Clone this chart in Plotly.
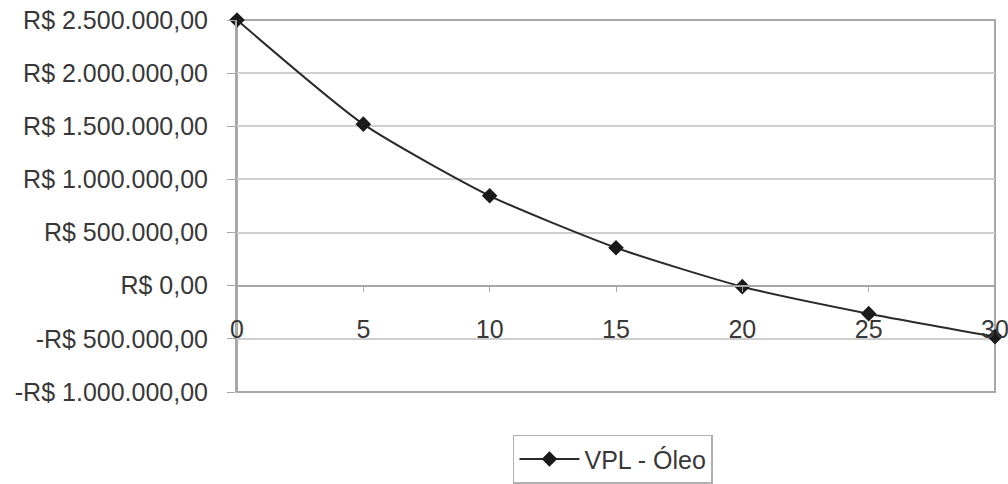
import plotly.graph_objects as go

anos = [0, 5, 10, 15, 20, 25, 30]
vpl_oleo = [2500000, 1520000, 846000, 357000, -9000, -263000, -479000]
y_ticks = [-1000000, -500000, 0, 500000, 1000000, 1500000, 2000000, 2500000]
y_labels = ["-R$ 1.000.000,00", "-R$ 500.000,00", "R$ 0,00", "R$ 500.000,00",
            "R$ 1.000.000,00", "R$ 1.500.000,00", "R$ 2.000.000,00", "R$ 2.500.000,00"]
x_ticks = [0, 5, 10, 15, 20, 25, 30]

FONT = "Liberation Sans, Arial, sans-serif"
GRID = "#cfcfcf"
AXIS = "#a8a8a8"

fig = go.Figure()
fig.add_trace(go.Scatter(
    x=anos, y=vpl_oleo, name="VPL - Óleo", mode="lines+markers",
    line=dict(color="#2a2a2a", width=2, shape="spline", smoothing=0.6),
    marker=dict(symbol="diamond", size=12, color="#1a1a1a"),
    cliponaxis=False,
))

fig.update_layout(
    width=1008, height=484,
    margin=dict(l=237, r=13, t=20, b=92, autoexpand=False),
    paper_bgcolor="white", plot_bgcolor="white",
    font=dict(family=FONT, size=25, color="#383838"),
    showlegend=True,
    legend=dict(
        orientation="h", x=0.496, xanchor="center", y=-0.115, yanchor="top",
        bordercolor="#b0b0b0", borderwidth=1.5, bgcolor="white",
        itemwidth=60,
        font=dict(family=FONT, size=25, color="#383838"),
    ),
    xaxis=dict(
        range=[0, 30], tickvals=x_ticks, ticktext=[str(v) for v in x_ticks],
        anchor="free", position=2 / 7, showgrid=False, zeroline=False,
        showline=True, linecolor=AXIS, linewidth=2,
        ticks="outside", ticklen=5, tickcolor=AXIS, tickwidth=1,
        ticklabelstandoff=16, ticklabeloverflow="allow", automargin=False,
    ),
    yaxis=dict(
        range=[-1000000, 2500000], tickvals=y_ticks, ticktext=y_labels,
        showgrid=True, gridcolor=GRID, gridwidth=2, zeroline=False,
        showline=True, linecolor=AXIS, linewidth=2,
        ticks="outside", ticklen=8, tickcolor=AXIS, tickwidth=1,
        ticklabelstandoff=14, ticklabeloverflow="allow", automargin=False,
    ),
    shapes=[dict(type="rect", xref="paper", yref="paper", x0=0, x1=1, y0=0, y1=1,
                 line=dict(color=AXIS, width=2), layer="below")],
)

fig.write_html("out.html")
